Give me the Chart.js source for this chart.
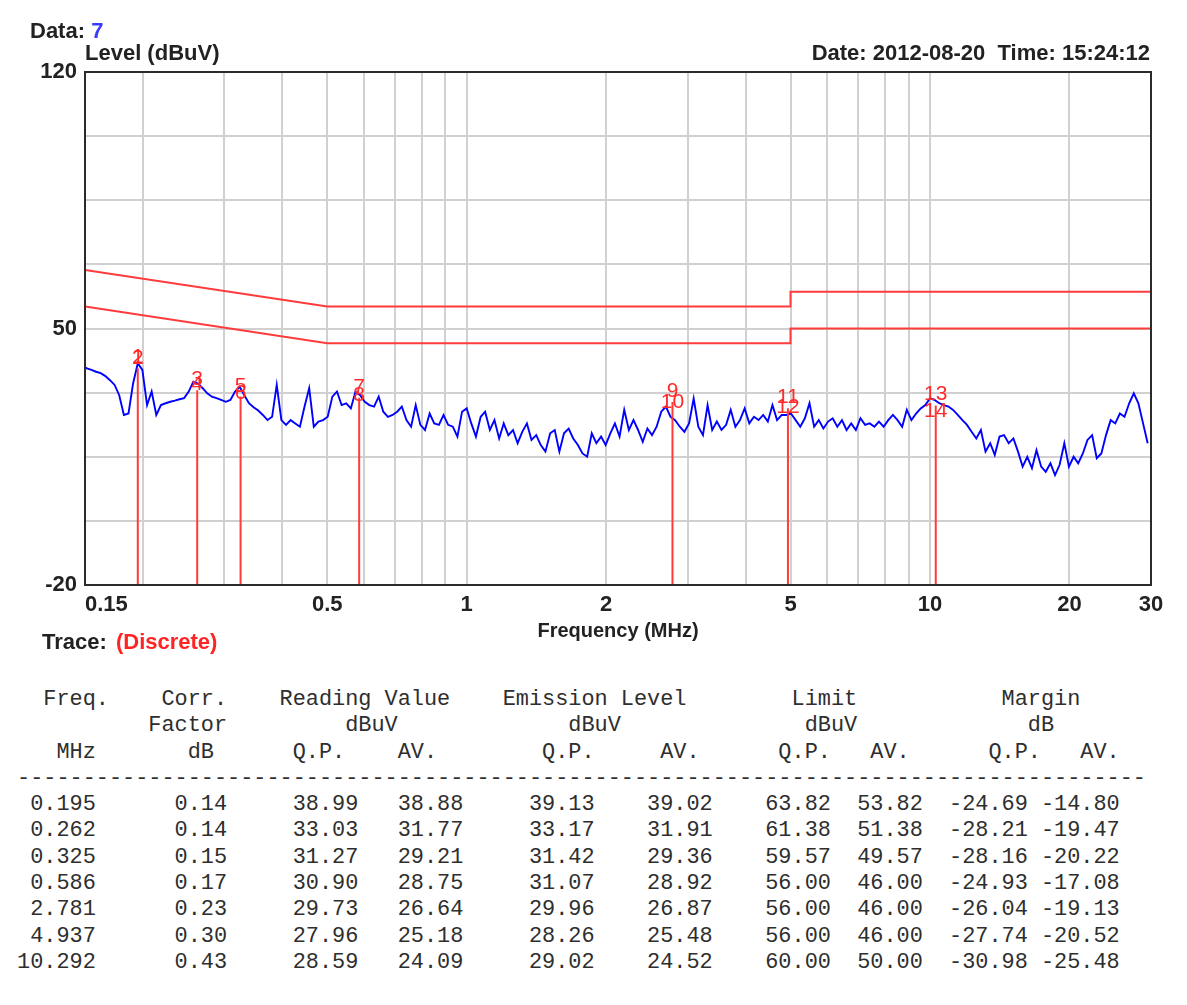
<!DOCTYPE html>
<html>
<head>
<meta charset="utf-8">
<title>Conducted emission - Data 7</title>
<script src="https://cdn.jsdelivr.net/npm/chart.js@4.4.0/dist/chart.umd.min.js"></script>
<style>
  html, body { margin: 0; padding: 0; background: #fff; }
  #page { position: relative; width: 1187px; height: 1005px; overflow: hidden; }
  #plot { position: absolute; left: 0; top: 0; }
  .lbl { position: absolute; font: bold 22px "Liberation Sans", Arial, sans-serif; line-height: 22px; color: #222; white-space: pre; }
  #xtitle { font-size: 20px; line-height: 20px; transform: translateX(-50%); }
  #table { position: absolute; left: 17px; top: 687px; margin: 0; font: 21.88px/26.3px "Liberation Mono", "Courier New", monospace; color: #2e2e2e; }
</style>
</head>
<body>
<div id="page">
  <canvas id="plot" width="1187" height="660"></canvas>
  <div class="lbl" style="left:30px;top:20px">Data: <span style="color:#3b3bff">7</span></div>
  <div class="lbl" style="left:85px;top:42px">Level (dBuV)</div>
  <div class="lbl" style="right:37px;top:42px">Date: 2012-08-20  Time: 15:24:12</div>
  <div class="lbl" id="xtitle" style="left:618px;top:620px">Frequency (MHz)</div>
  <div class="lbl" style="left:42px;top:631px">Trace: <span style="color:#ff2424;margin-left:3px">(Discrete)</span></div>
  <pre id="table"></pre>
</div>
<script>
// swept trace, MHz / dBuV
const traceFreq = [
  0.150, 0.1514, 0.1549, 0.1585, 0.1622, 0.1660, 0.1698, 0.1738, 0.1778, 0.1820,
  0.1862, 0.1905, 0.1950, 0.1995, 0.2042, 0.2089, 0.2138, 0.2188, 0.2239, 0.2291,
  0.2344, 0.2399, 0.2455, 0.2512, 0.2570, 0.2630, 0.2692, 0.2754, 0.2818, 0.2884,
  0.2951, 0.3020, 0.3090, 0.3162, 0.3236, 0.3311, 0.3388, 0.3467, 0.3548, 0.3631,
  0.3715, 0.3802, 0.3890, 0.3981, 0.4074, 0.4169, 0.4266, 0.4365, 0.4467, 0.4571,
  0.4677, 0.4786, 0.4898, 0.5012, 0.5129, 0.5248, 0.5370, 0.5495, 0.5623, 0.5754,
  0.5888, 0.6026, 0.6166, 0.6310, 0.6457, 0.6607, 0.6761, 0.6918, 0.7079, 0.7244,
  0.7413, 0.7586, 0.7762, 0.7943, 0.8128, 0.8318, 0.8511, 0.8710, 0.8913, 0.9120,
  0.9333, 0.9550, 0.9772,
  1.000, 1.023, 1.047, 1.072, 1.096, 1.122, 1.148, 1.175, 1.202, 1.230,
  1.259, 1.288, 1.318, 1.349, 1.380, 1.413, 1.445, 1.479, 1.514, 1.549,
  1.585, 1.622, 1.660, 1.698, 1.738, 1.778, 1.820, 1.862, 1.905, 1.950,
  1.995, 2.042, 2.089, 2.138, 2.188, 2.239, 2.291, 2.344, 2.399, 2.455,
  2.512, 2.570, 2.630, 2.692, 2.754, 2.818, 2.884, 2.951, 3.020, 3.090,
  3.162, 3.236, 3.311, 3.388, 3.467, 3.548, 3.631, 3.715, 3.802, 3.890,
  3.981, 4.074, 4.169, 4.266, 4.365, 4.467, 4.571, 4.677, 4.786, 4.898,
  5.012, 5.129, 5.248, 5.370, 5.495, 5.623, 5.754, 5.888, 6.026, 6.166,
  6.310, 6.457, 6.607, 6.761, 6.918, 7.079, 7.244, 7.413, 7.586, 7.762,
  7.943, 8.128, 8.318, 8.511, 8.710, 8.913, 9.120, 9.333, 9.550, 9.772,
  10.00, 10.23, 10.47, 10.72, 10.96, 11.22, 11.48, 11.75, 12.02, 12.30,
  12.59, 12.88, 13.18, 13.49, 13.80, 14.13, 14.45, 14.79, 15.14, 15.49,
  15.85, 16.22, 16.60, 16.98, 17.38, 17.78, 18.20, 18.62, 19.05, 19.50,
  19.95, 20.42, 20.89, 21.38, 21.88, 22.39, 22.91, 23.44, 23.99, 24.55,
  25.12, 25.70, 26.30, 26.92, 27.54, 28.18, 28.84, 29.51
];
const traceLevel = [
  39.5, 39.1, 38.7, 38.2, 37.8, 37.0, 35.9, 34.6, 31.8, 26.4,
  26.8, 35.0, 40.5, 38.7, 29.1, 32.8, 26.4, 29.1, 29.6, 30.0,
  30.3, 30.7, 31.0, 32.8, 35.5, 35.0, 33.7, 32.3, 31.4, 31.0,
  30.5, 30.0, 30.5, 32.8, 34.1, 31.8, 29.6, 28.5, 27.6, 26.4,
  25.0, 25.9, 34.6, 25.0, 23.7, 25.0, 24.1, 23.2, 28.7, 33.7,
  23.2, 24.6, 25.0, 25.9, 31.4, 32.8, 29.1, 29.6, 28.2, 32.8,
  31.8, 30.0, 29.1, 28.7, 31.4, 27.3, 25.9, 26.4, 27.3, 28.7,
  25.0, 23.2, 29.1, 23.7, 22.3, 26.8, 24.1, 23.7, 26.4, 23.7,
  23.2, 20.5, 27.3,
  28.2, 24.1, 20.5, 25.9, 27.3, 22.3, 25.0, 20.0, 24.1, 20.9,
  22.3, 18.7, 21.8, 24.1, 19.6, 20.9, 18.2, 16.4, 21.4, 22.3,
  16.4, 21.4, 22.7, 20.0, 18.2, 15.9, 15.0, 21.4, 18.7, 20.5,
  18.2, 21.4, 24.1, 20.5, 27.8, 22.3, 25.0, 22.3, 19.1, 22.7,
  20.9, 23.2, 27.3, 28.7, 25.9, 25.0, 23.2, 21.8, 24.1, 30.9,
  23.2, 20.9, 29.1, 22.3, 24.6, 22.3, 23.7, 27.8, 23.2, 25.0,
  28.2, 24.1, 25.9, 25.0, 26.4, 24.6, 29.1, 25.0, 26.4, 26.4,
  26.8, 25.0, 23.2, 25.5, 29.6, 23.2, 25.0, 22.7, 24.6, 25.5,
  23.2, 25.0, 22.3, 24.1, 22.3, 25.5, 23.7, 24.1, 23.2, 24.6,
  23.2, 25.0, 26.4, 25.0, 23.2, 27.8, 25.0, 26.8, 28.2, 29.1,
  30.9, 30.5, 29.6, 29.1, 28.7, 27.8, 26.4, 25.0, 23.7, 21.8,
  20.0, 22.3, 16.4, 18.7, 15.5, 20.5, 20.9, 18.7, 20.0, 16.4,
  12.3, 15.0, 11.9, 16.8, 12.3, 10.9, 13.2, 10.0, 12.8, 18.7,
  12.3, 15.0, 13.2, 15.9, 19.6, 20.9, 14.6, 15.9, 20.9, 25.0,
  24.1, 26.8, 25.9, 29.6, 32.3, 29.6, 24.1, 18.7
];

// EN 55022 class B style limits
const limitFreq = [0.15, 0.5, 5, 5, 30];
const qpLimitLevel = [66, 56, 56, 60, 60];
const avLimitLevel = [56, 46, 46, 50, 50];

// discrete (final) measurement points
const markerFreq = [0.195, 0.262, 0.325, 0.586, 2.781, 4.937, 10.292];
const corrFactor = [0.14, 0.14, 0.15, 0.17, 0.23, 0.30, 0.43];
const readingQP = [38.99, 33.03, 31.27, 30.90, 29.73, 27.96, 28.59];
const readingAV = [38.88, 31.77, 29.21, 28.75, 26.64, 25.18, 24.09];
const emissionQP = [39.13, 33.17, 31.42, 31.07, 29.96, 28.26, 29.02];
const emissionAV = [39.02, 31.91, 29.36, 28.92, 26.87, 25.48, 24.52];
const limitQP = [63.82, 61.38, 59.57, 56.00, 56.00, 56.00, 60.00];
const limitAV = [53.82, 51.38, 49.57, 46.00, 46.00, 46.00, 50.00];
const marginQP = [-24.69, -28.21, -28.16, -24.93, -26.04, -27.74, -30.98];
const marginAV = [-14.80, -19.47, -20.22, -17.08, -19.13, -20.52, -25.48];

// axes
const xGridValues = [0.2, 0.3, 0.4, 0.5, 0.6, 0.7, 0.8, 0.9, 1, 2, 3, 4, 5, 6, 7, 8, 9, 10, 20];
const xLabelValues = [0.15, 0.5, 1, 2, 5, 10, 20, 30];
const yLabelValues = [-20, 50, 120];

const RED = '#ff3b3b';
const BOLD = '"Liberation Sans", Arial, sans-serif';

const pts = (xs, ys) => xs.map((v, i) => ({ x: v, y: ys[i] }));
const markerLines = markerFreq.flatMap((f, i) => [
  { x: f, y: -20 }, { x: f, y: emissionQP[i] }, { x: f, y: null }
]);

const plotDecor = {
  id: 'plotDecor',
  afterDatasetsDraw(chart) {
    const { ctx, scales: { x, y } } = chart;
    ctx.save();
    ctx.font = '21px ' + BOLD;
    ctx.fillStyle = '#ff2a2a';
    ctx.textAlign = 'center';
    ctx.textBaseline = 'alphabetic';
    // odd number at the Q.P. level, even number at the AV level
    markerFreq.forEach((f, i) => {
      const px = x.getPixelForValue(f);
      ctx.fillText(String(2 * i + 1), px, y.getPixelForValue(emissionQP[i]) - 5);
      ctx.fillText(String(2 * i + 2), px, y.getPixelForValue(emissionAV[i]) - 5);
    });
    ctx.restore();
  },
  afterDraw(chart) {
    const { ctx, chartArea: a, scales: { x } } = chart;
    ctx.save();
    ctx.strokeStyle = '#2b2b2b';
    ctx.lineWidth = 2;
    ctx.strokeRect(a.left, a.top, a.right - a.left, a.bottom - a.top);
    ctx.font = 'bold 22px ' + BOLD;
    ctx.fillStyle = '#222';
    ctx.textBaseline = 'alphabetic';
    xLabelValues.forEach((v, i) => {
      ctx.textAlign = i === 0 ? 'left' : 'center';
      ctx.fillText(String(v), x.getPixelForValue(v), a.bottom + 26);
    });
    ctx.restore();
  }
};

new Chart(document.getElementById('plot'), {
  type: 'line',
  data: {
    datasets: [
      { label: 'Markers', data: markerLines, borderColor: RED, borderWidth: 2, spanGaps: false },
      { label: 'QP limit', data: pts(limitFreq, qpLimitLevel), borderColor: RED, borderWidth: 2 },
      { label: 'AV limit', data: pts(limitFreq, avLimitLevel), borderColor: RED, borderWidth: 2 },
      { label: 'Level', data: pts(traceFreq, traceLevel), borderColor: '#0000ff', borderWidth: 1.9 }
    ]
  },
  options: {
    responsive: false,
    animation: false,
    events: [],
    elements: { point: { radius: 0 }, line: { tension: 0, fill: false } },
    layout: { padding: { left: 0, top: 72, right: 36, bottom: 0 } },
    plugins: { legend: { display: false }, tooltip: { enabled: false } },
    scales: {
      x: {
        type: 'logarithmic',
        min: 0.15,
        max: 30,
        afterBuildTicks: s => { s.ticks = xGridValues.map(v => ({ value: v })); },
        afterFit: s => { s.height = 75; },
        ticks: { display: false },
        grid: { color: '#d0d0d0', lineWidth: 2, drawTicks: false },
        border: { display: false }
      },
      y: {
        min: -20,
        max: 120,
        afterFit: s => { s.width = 85; },
        ticks: {
          stepSize: 17.5,
          padding: 8,
          color: '#222',
          font: { family: BOLD, size: 22, weight: 'bold' },
          callback: v => yLabelValues.some(t => Math.abs(t - v) < 1e-6) ? String(v) : ''
        },
        grid: { color: '#d0d0d0', lineWidth: 2, drawTicks: false },
        border: { display: false }
      }
    }
  },
  plugins: [plotDecor]
});

// result table below the plot
const headerCols = [
  [[2, 'Freq.'], [11, 'Corr.'], [20, 'Reading Value'], [37, 'Emission Level'], [59, 'Limit'], [75, 'Margin']],
  [[10, 'Factor'], [25, 'dBuV'], [42, 'dBuV'], [60, 'dBuV'], [77, 'dB']],
  [[3, 'MHz'], [13, 'dB'], [21, 'Q.P.'], [29, 'AV.'], [40, 'Q.P.'], [49, 'AV.'], [58, 'Q.P.'], [65, 'AV.'], [74, 'Q.P.'], [81, 'AV.']]
];
const placeAt = items => items.reduce((s, [c, t]) => s.padEnd(c) + t, '');
const lines = headerCols.map(placeAt);
lines.push('-'.repeat(86));
markerFreq.forEach((f, i) => {
  lines.push(
    f.toFixed(3).padStart(6) +
    corrFactor[i].toFixed(2).padStart(10) +
    readingQP[i].toFixed(2).padStart(10) +
    readingAV[i].toFixed(2).padStart(8) +
    emissionQP[i].toFixed(2).padStart(10) +
    emissionAV[i].toFixed(2).padStart(9) +
    limitQP[i].toFixed(2).padStart(9) +
    limitAV[i].toFixed(2).padStart(7) +
    marginQP[i].toFixed(2).padStart(8) +
    marginAV[i].toFixed(2).padStart(7)
  );
});
document.getElementById('table').textContent = lines.join('\n');
</script>
</body>
</html>
